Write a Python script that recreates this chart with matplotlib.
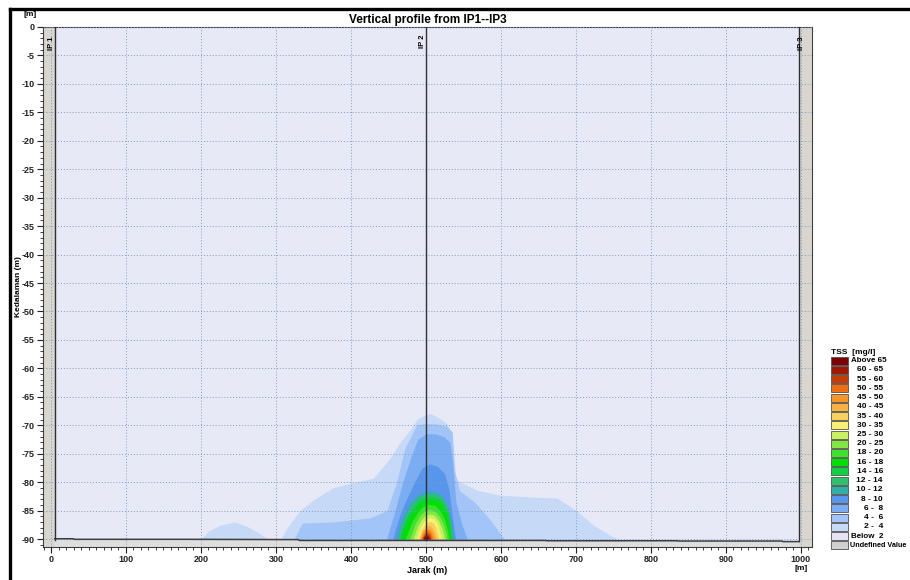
"""
Vertical profile of TSS between IP1 and IP3 (contour bands read off the
MIKE screenshot, drawn as filled profiles from light to dark)
"""

import matplotlib
matplotlib.use("Agg")
import matplotlib.pyplot as plt
from matplotlib.lines import Line2D
from matplotlib.patches import Rectangle
from matplotlib.ticker import MultipleLocator

plt.rcParams["font.family"] = ["Liberation Sans", "DejaVu Sans"]
plt.rcParams["font.weight"] = "bold"
plt.rcParams["axes.unicode_minus"] = False

# legend classes, top to bottom
tss_labels = ["Above 65", "60 - 65", "55 - 60", "50 - 55", "45 - 50", "40 - 45",
              "35 - 40", "30 - 35", "25 - 30", "20 - 25", "18 - 20", "16 - 18",
              "14 - 16", "12 - 14", "10 - 12", "8 - 10", "6 -  8", "4 -  6",
              "2 -  4", "Below  2", "Undefined Value"]
tss_colors = ["#7b0000", "#a01800", "#c43c08", "#ee6e10", "#f79428", "#f8b040",
              "#f8d060", "#f8f070", "#c8f060", "#80e840", "#40e030", "#00e000",
              "#10d040", "#30c070", "#30b0a8", "#5896ec", "#7cacf2", "#a2c4f6",
              "#c6daf8", "#e4e4f4", "#d0d0d0"]

# bed level along the profile
bed_x = [5, 30, 31, 180, 330, 331, 660, 661, 835, 836, 975, 976, 998]
bed_d = [-89.95, -89.95, -90.05, -90.05, -90.1, -90.25, -90.25, -90.3,
         -90.3, -90.35, -90.35, -90.45, -90.45]

# top of each concentration band (x in m, depth in m)
c2_4_bump_x = [198, 210, 225, 245, 262, 278, 292]
c2_4_bump_d = [-90.3, -88.6, -87.6, -87.0, -87.8, -89.0, -90.3]
c2_4_x = [305, 315, 332, 350, 376, 399, 430, 452, 465, 479, 489, 505, 516,
          528, 535, 540, 568, 599, 640, 675, 701, 723, 749, 762]
c2_4_d = [-90.3, -88.0, -85.0, -83.1, -81.0, -80.2, -79.3, -75.8, -73.1,
          -70.8, -68.8, -67.9, -68.6, -69.7, -71.4, -79.6, -81.4, -82.3,
          -82.6, -82.8, -85.0, -87.5, -89.6, -90.3]
c4_6_x = [323, 335, 376, 425, 448, 461, 472, 488, 500, 515, 528, 535, 538,
          545, 565, 585, 600, 606]
c4_6_d = [-90.3, -87.2, -87.0, -86.3, -85.0, -80.0, -74.0, -69.9, -69.7,
          -69.8, -70.2, -71.2, -78.0, -81.5, -83.5, -86.5, -89.2, -90.3]
c6_8_x = [447, 452, 459, 468, 479, 489, 500, 512, 524, 532, 535, 540, 548, 556]
c6_8_d = [-90.3, -88.0, -85.0, -80.5, -76.0, -72.5, -71.5, -71.5, -72.0,
          -73.0, -76.0, -83.5, -87.5, -90.3]
c8_10_x = [455, 460, 466, 474, 485, 495, 505, 515, 525, 531, 535, 540]
c8_10_d = [-90.3, -88.0, -85.5, -83.0, -80.0, -77.5, -76.8, -77.2, -78.5,
           -81.5, -86.0, -90.3]
c10_12_x = [460, 464, 471, 480, 490, 500, 510, 520, 528, 534, 537]
c10_12_d = [-90.3, -88.2, -85.5, -83.5, -82.2, -81.6, -81.6, -82.2, -84.0,
            -87.0, -90.3]
c12_14_x = [462, 466, 473, 481, 491, 501, 511, 521, 529, 534, 536]
c12_14_d = [-90.3, -88.3, -85.8, -84.0, -82.6, -82.1, -82.1, -82.7, -84.5,
            -87.5, -90.3]
c14_16_x = [464, 468, 475, 483, 492, 502, 512, 521, 529, 533, 535]
c14_16_d = [-90.3, -88.5, -86.0, -84.3, -83.0, -82.5, -82.6, -83.2, -85.0,
            -88.0, -90.3]
c16_18_x = [467, 471, 478, 486, 494, 503, 512, 520, 527, 531, 533]
c16_18_d = [-90.3, -88.6, -86.4, -84.8, -83.6, -83.1, -83.2, -84.0, -85.8,
            -88.3, -90.3]
c18_20_x = [472, 476, 482, 489, 496, 504, 512, 519, 525, 529, 531]
c18_20_d = [-90.3, -88.8, -86.8, -85.3, -84.3, -83.9, -84.1, -85.0, -86.6,
            -88.6, -90.3]
c20_25_x = [477, 481, 486, 492, 498, 505, 512, 518, 523, 527, 528]
c20_25_d = [-90.3, -89.0, -87.2, -85.9, -85.1, -84.8, -85.1, -86.0, -87.3,
            -89.0, -90.3]
c25_30_x = [482, 485, 489, 494, 500, 506, 512, 517, 521, 524, 525]
c25_30_d = [-90.3, -89.2, -87.7, -86.6, -85.8, -85.6, -85.9, -86.8, -88.0,
            -89.4, -90.3]
c30_35_x = [486, 489, 492, 496, 501, 506, 511, 515, 518, 520, 521]
c30_35_d = [-90.3, -89.4, -88.1, -87.1, -86.4, -86.2, -86.5, -87.3, -88.5,
            -89.6, -90.3]
c35_40_x = [489, 491, 494, 498, 502, 506, 510, 513, 515, 517, 518]
c35_40_d = [-90.3, -89.5, -88.4, -87.6, -87.0, -86.9, -87.2, -87.9, -88.8,
            -89.7, -90.3]
c40_45_x = [491, 493, 495, 499, 502, 505, 508, 511, 513, 514]
c40_45_d = [-90.3, -89.4, -88.6, -88.0, -87.6, -87.6, -88.0, -88.7, -89.5, -90.3]
c45_50_x = [492, 494, 496, 499, 502, 505, 508, 510, 511]
c45_50_d = [-90.3, -89.5, -88.8, -88.3, -88.1, -88.2, -88.7, -89.5, -90.3]
c50_55_x = [493, 495, 497, 500, 503, 506, 508, 509]
c50_55_d = [-90.3, -89.5, -89.0, -88.6, -88.5, -88.8, -89.5, -90.3]
c55_60_x = [494, 496, 498, 501, 504, 506, 507]
c55_60_d = [-90.3, -89.6, -89.2, -88.9, -89.0, -89.6, -90.3]
c60_65_x = [495, 497, 500, 503, 505, 506]
c60_65_d = [-90.3, -89.6, -89.3, -89.4, -89.8, -90.3]
c65_x = [496, 498, 500, 503, 505]
c65_d = [-90.3, -89.8, -89.6, -89.8, -90.3]

# drawing order (light -> dark) with legend colour index
bands = [(c2_4_bump_x, c2_4_bump_d, 18), (c2_4_x, c2_4_d, 18),
         (c4_6_x, c4_6_d, 17), (c6_8_x, c6_8_d, 16), (c8_10_x, c8_10_d, 15),
         (c10_12_x, c10_12_d, 14), (c12_14_x, c12_14_d, 13),
         (c14_16_x, c14_16_d, 12), (c16_18_x, c16_18_d, 11),
         (c18_20_x, c18_20_d, 10), (c20_25_x, c20_25_d, 9),
         (c25_30_x, c25_30_d, 8), (c30_35_x, c30_35_d, 7),
         (c35_40_x, c35_40_d, 6), (c40_45_x, c40_45_d, 5),
         (c45_50_x, c45_50_d, 4), (c50_55_x, c50_55_d, 3),
         (c55_60_x, c55_60_d, 2), (c60_65_x, c60_65_d, 1), (c65_x, c65_d, 0)]

W, H = 910, 580
fig = plt.figure(figsize=(W / 100, H / 100), dpi=100)
fig.patch.set_facecolor("white")
ax = fig.add_axes([43 / W, 1 - 547 / H, (812 - 43) / W, (547 - 27) / H])
ax.set_facecolor("#e8e9f7")

xmin, xmax, ymin, ymax = -10.7, 1015, -91.4, 0
for bx, bd, ci in bands:
    ax.fill_between(bx, bd, -91, color=tss_colors[ci], lw=0, zorder=1)

# ground below the bed and the undefined side strips
ax.fill_between(bed_x, bed_d, ymin, color="#dedede", lw=0, zorder=1.5)
ax.plot(bed_x, bed_d, color="#3c3c3c", lw=1.1, zorder=3)
ax.axvspan(xmin, 5, color="#d8d6ce", lw=0, zorder=1.5)
ax.axvspan(998, xmax, color="#d8d6ce", lw=0, zorder=1.5)
for xv in (5, 500, 998):
    ax.plot([xv, xv], [0, -90.2], color="#303030", lw=1.0, zorder=3)

ax.set_xlim(xmin, xmax)
ax.set_ylim(ymin, ymax)
ax.xaxis.set_major_locator(MultipleLocator(100))
ax.xaxis.set_minor_locator(MultipleLocator(10))
ax.yaxis.set_major_locator(MultipleLocator(5))
ax.yaxis.set_minor_locator(MultipleLocator(1))
ax.tick_params(which="both", direction="out", labelsize=6.5, colors="#202020",
               pad=2)
ax.tick_params(which="major", length=4)
ax.tick_params(which="minor", length=2)
ax.set_axisbelow(False)
ax.grid(True, which="major", color="#7a9cc8", lw=0.7, linestyle=(0, (1, 2)))
for s in ax.spines.values():
    s.set_color("#404040")
    s.set_linewidth(0.8)

ax.set_title("Vertical profile from IP1--IP3", fontsize=8.5, fontweight="bold",
             pad=3)
ax.set_xlabel("Jarak (m)", fontsize=6.5, fontweight="bold", labelpad=1)
ax.set_ylabel("Kedalaman (m)", fontsize=6, fontweight="bold")
ax.yaxis.set_label_coords(-0.0275, 0.5)

ax.text(0, -2.8, "IP 1", rotation=90, ha="center", va="center", fontsize=5.5,
        zorder=4)
ax.text(496, -2.5, "IP 2", rotation=90, ha="center", va="center", fontsize=5.5,
        zorder=4)
ax.text(1001, -2.8, "IP 3", rotation=90, ha="center", va="center", fontsize=5.5,
        zorder=4)

fig.text(30 / W, 1 - 15 / H, "[m]", fontsize=6, ha="center", va="center")
fig.text(801 / W, 1 - 568 / H, "[m]", fontsize=6, ha="center", va="center")

# legend
fig.text(831 / W, 1 - 352 / H, "TSS  [mg/l]", fontsize=6, ha="left", va="center")
for i, (lab, col) in enumerate(zip(tss_labels, tss_colors)):
    yc = 360.7 + i * 9.23
    fig.add_artist(Rectangle((831 / W, 1 - (yc + 4) / H), 17 / W, 8 / H,
                             transform=fig.transFigure, facecolor=col,
                             edgecolor="#505050", lw=0.6))
    if lab[0].isdigit():
        fig.text(883 / W, 1 - yc / H, lab, fontsize=6, ha="right", va="center")
    elif lab.startswith("Undefined"):
        fig.text(850 / W, 1 - yc / H, lab, fontsize=5.2, ha="left", va="center")
    else:
        fig.text(851 / W, 1 - yc / H, lab, fontsize=5.8, ha="left", va="center")

# screenshot frame
fig.add_artist(Line2D([10 / W, 1], [1 - 9 / H, 1 - 9 / H], color="black",
                      lw=2.4, transform=fig.transFigure))
fig.add_artist(Line2D([10 / W, 10 / W], [0, 1 - 9 / H], color="black",
                      lw=2.4, transform=fig.transFigure))

fig.savefig("out.png", dpi=100)
